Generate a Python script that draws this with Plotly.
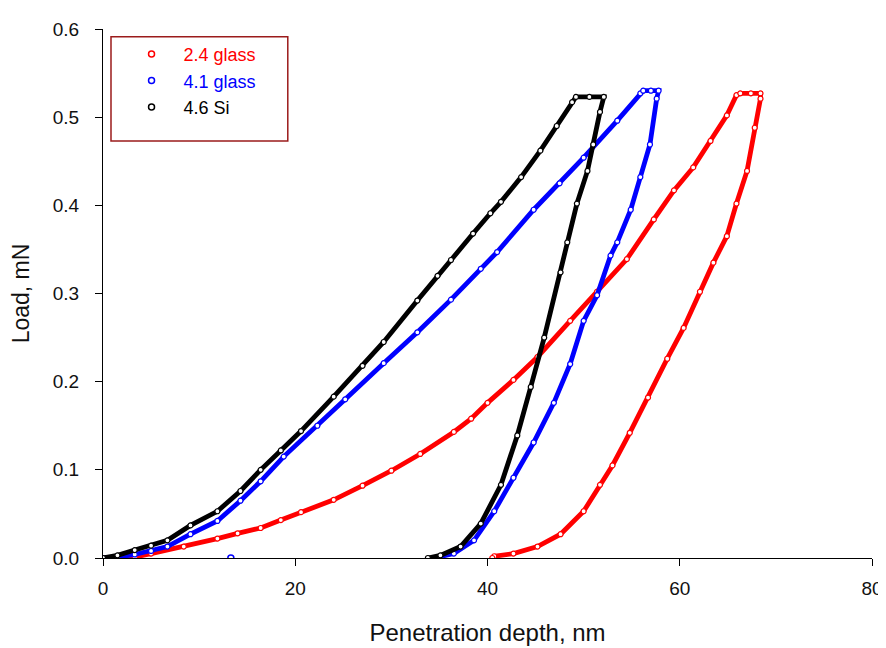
import plotly.graph_objects as go

# ---------------- data ----------------
series_names = ["2.4 glass", "4.1 glass", "4.6 Si"]
series_colors = ["#FF0000", "#0000FF", "#000000"]

red_x = [0, 3.3, 5.0, 8.4, 11.9, 14.0, 16.4, 18.5, 20.6, 24.0, 27.0, 30.0, 33.0, 36.5, 38.3,
         40.0, 42.7, 45.2, 48.6, 51.4, 54.5, 57.3, 59.4, 61.4, 63.2, 64.9, 65.9, 66.3, 67.4,
         68.4,
         68.4, 67.8, 67.0, 65.9, 64.9, 63.5, 62.1, 60.4, 58.7, 56.7, 54.8, 53.0, 51.7,
         50.0, 47.6, 45.2, 42.7, 40.7, 40.5]
red_y = [0, 0.001, 0.005, 0.013, 0.022, 0.028, 0.034, 0.043, 0.052, 0.066, 0.082, 0.099,
         0.118, 0.143, 0.158, 0.176, 0.202, 0.228, 0.269, 0.302, 0.339, 0.384, 0.417, 0.443,
         0.473, 0.502, 0.525, 0.527, 0.527, 0.527,
         0.521, 0.488, 0.439, 0.402, 0.365, 0.335, 0.302, 0.261, 0.226, 0.182, 0.142, 0.105,
         0.083, 0.053, 0.027, 0.013, 0.005, 0.002, 0.0]

blue_x = [0, 1.5, 3.3, 5.0, 6.7, 9.1, 11.9, 14.3, 16.4, 18.8, 22.3, 25.2, 29.2, 32.7, 36.2,
          39.3, 41.0, 44.8, 47.5, 50.0, 53.5, 55.9, 56.2, 57.0, 57.8,
          57.6, 56.9, 55.9, 54.9, 53.5, 52.8, 51.4, 50.0, 48.6, 46.9, 44.8, 42.7, 40.7,
          38.6, 36.5, 34.4]
blue_y = [0, 0.001, 0.004, 0.008, 0.013, 0.027, 0.042, 0.065, 0.087, 0.115, 0.150, 0.180,
          0.221, 0.256, 0.293, 0.328, 0.347, 0.395, 0.425, 0.454, 0.496, 0.527, 0.530,
          0.530, 0.530,
          0.521, 0.469, 0.432, 0.395, 0.358, 0.343, 0.298, 0.269, 0.220, 0.176, 0.131,
          0.091, 0.053, 0.020, 0.005, 0.0]

blue_extra_x = [13.3]
blue_extra_y = [0.0]

black_x = [0, 1.5, 3.3, 5.0, 6.7, 9.1, 11.9, 14.3, 16.4, 18.5, 20.6, 24.0, 27.0, 29.2,
           32.7, 34.8, 36.2, 38.5, 40.3, 41.4, 43.5, 45.5, 47.2, 48.8, 49.2, 50.6, 52.1,
           51.7, 51.0, 50.4, 49.3, 48.3, 47.6, 45.9, 44.5, 43.1, 41.4, 39.3, 37.2, 35.1, 33.8]
black_y = [0, 0.003, 0.009, 0.014, 0.020, 0.037, 0.053, 0.076, 0.100, 0.122, 0.144, 0.183,
           0.218, 0.245, 0.292, 0.320, 0.338, 0.368, 0.391, 0.404, 0.432, 0.462, 0.490,
           0.517, 0.523, 0.523, 0.523,
           0.506, 0.469, 0.439, 0.402, 0.358, 0.324, 0.250, 0.194, 0.139, 0.083, 0.039,
           0.013, 0.003, 0.0]

x_ticks = [0, 20, 40, 60, 80]
y_ticks = [0.0, 0.1, 0.2, 0.3, 0.4, 0.5, 0.6]

FONT = "Liberation Sans, Arial, sans-serif"

fig = go.Figure()

data_sets = [(red_x, red_y), (blue_x, blue_y), (black_x, black_y)]
for (xs, ys), name, col in zip(data_sets, series_names, series_colors):
    fig.add_trace(go.Scatter(
        x=xs, y=ys, mode="lines+markers", showlegend=False,
        line=dict(color=col, width=4.8),
        marker=dict(symbol="circle", size=5, color="white", line=dict(color=col, width=1.2)),
        hoverinfo="skip"))

fig.add_trace(go.Scatter(
    x=blue_extra_x, y=blue_extra_y, mode="markers", showlegend=False,
    marker=dict(symbol="circle-open", size=6, color=series_colors[1], line=dict(width=1.5))))

# legend-only entries
for name, col in zip(series_names, series_colors):
    fig.add_trace(go.Scatter(
        x=[None], y=[None], mode="markers",
        name=f"<span style='color:{col}'>{name}</span>",
        marker=dict(symbol="circle-open", size=6, color=col, line=dict(width=1.5))))

axis_common = dict(
    showline=True, linecolor="black", linewidth=1, mirror=False,
    ticks="outside", ticklen=7, tickwidth=1, tickcolor="black",
    showgrid=False, zeroline=False,
    tickfont=dict(family=FONT, size=19, color="#111111"),
)

fig.update_layout(
    width=886, height=648, autosize=False,
    paper_bgcolor="white", plot_bgcolor="white",
    margin=dict(l=94, r=22, t=11, b=98),
    font=dict(family=FONT, color="black"),
    xaxis=dict(range=[0, 80], tickvals=x_ticks, ticktext=[str(v) for v in x_ticks],
               ticklabelstandoff=6,
               title=dict(text="Penetration depth, nm", font=dict(family=FONT, size=24, color="#111111"),
                          standoff=26),
               **axis_common),
    yaxis=dict(range=[0, 0.6], tickvals=y_ticks, ticktext=[f"{v:.1f}" for v in y_ticks],
               ticklabelstandoff=12,
               title=dict(text="Load, mN", font=dict(family=FONT, size=23, color="#111111"),
                          standoff=18),
               **axis_common),
    legend=dict(x=0.0215, y=0.987, xanchor="left", yanchor="top",
                bgcolor="rgba(0,0,0,0)", borderwidth=0,
                font=dict(family=FONT, size=18), itemwidth=54, tracegroupgap=0),
    shapes=[dict(type="rect", xref="paper", yref="paper",
                 x0=0.0104, x1=0.2403, y0=0.7885, y1=0.9852,
                 line=dict(color="#9B1B1B", width=1.5), fillcolor="rgba(0,0,0,0)")],
)

fig.write_html("out.html")
